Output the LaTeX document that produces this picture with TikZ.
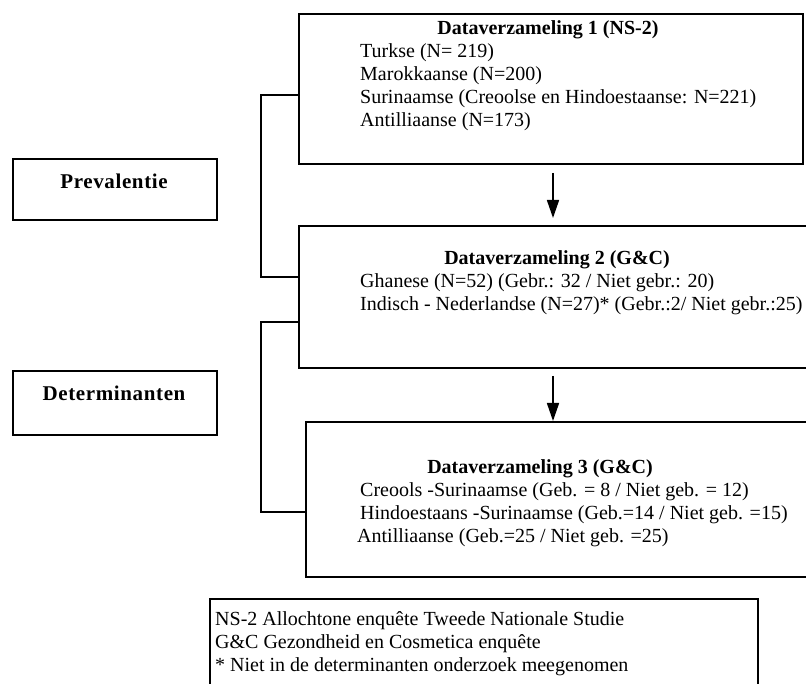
\documentclass[tikz,border=0pt]{standalone}
\usepackage{fontspec}
\setmainfont{Liberation Serif}
\usetikzlibrary{arrows.meta}
\begin{document}
\begin{tikzpicture}[x=1pt,y=-1pt,
  frame/.style={draw,line width=1.6pt,inner sep=0pt,anchor=north west},
  txt/.style={inner sep=0pt,anchor=base west,font=\fontsize{20}{23}\selectfont},
  ttl/.style={inner sep=0pt,anchor=base,font=\fontsize{20}{23}\selectfont\bfseries},
  side/.style={inner sep=0pt,anchor=base,font=\fontsize{21}{25}\selectfont\bfseries\addfontfeatures{LetterSpace=3}},
  conn/.style={line width=1.6pt},
  arr/.style={line width=1.6pt,-{Triangle[length=18pt,width=12pt]}}]
\useasboundingbox (0,0) rectangle (806,684);
\clip (0,0) rectangle (806,684);
% boxes
\node[frame,minimum width=504pt,minimum height=150pt] (box1) at (298,13) {};
\node[frame,minimum width=520pt,minimum height=142pt] (box2) at (298,225) {};
\node[frame,minimum width=520pt,minimum height=155pt] (box3) at (305,421) {};
\node[frame,minimum width=548pt,minimum height=100pt] (legend) at (209,598) {};
\node[frame,minimum width=204pt,minimum height=61pt] (prev) at (12,158) {};
\node[frame,minimum width=204pt,minimum height=64pt] (det) at (12,370) {};
% side labels
\node[side] (prevt) at (114,189) {Prevalentie};
\node[side] (dett) at (114,401) {Determinanten};
% box 1 text
\node[ttl] (t1) at (548,35) {Dataverzameling 1 (NS-2)};
\node[txt] (l11) at (360,58) {Turkse (N= 219)};
\node[txt] (l12) at (360,81) {Marokkaanse (N=200)};
\node[txt] (l13) at (360,104) {Surinaamse (Creoolse en Hindoestaanse: N=221)};
\node[txt] (l14) at (360,127) {Antilliaanse (N=173)};
% box 2 text
\node[ttl] (t2) at (557,265) {Dataverzameling 2 (G\&C)};
\node[txt] (l21) at (360,288) {Ghanese (N=52) (Gebr.: 32 / Niet gebr.: 20)};
\node[txt] (l22) at (360,311) {Indisch - Nederlandse (N=27)* (Gebr.:2/ Niet gebr.:25)};
% box 3 text
\node[ttl] (t3) at (540,473) {Dataverzameling 3 (G\&C)};
\node[txt] (l31) at (360,496) {Creools -Surinaamse (Geb. = 8 / Niet geb. = 12)};
\node[txt] (l32) at (360,519) {Hindoestaans -Surinaamse (Geb.=14 / Niet geb. =15)};
\node[txt] (l33) at (357,542) {Antilliaanse (Geb.=25 / Niet geb. =25)};
% legend text
\node[txt] (g1) at (215,625) {NS-2 Allochtone enquête Tweede Nationale Studie};
\node[txt] (g2) at (215,648) {G\&C Gezondheid en Cosmetica enquête};
\node[txt] (g3) at (215,671) {* Niet in de determinanten onderzoek meegenomen};
% arrows
\coordinate (a1s) at (553,173);
\coordinate (a1e) at (553,218);
\coordinate (a2s) at (553,376);
\coordinate (a2e) at (553,421);
\draw[arr] (a1s) -- (a1e);
\draw[arr] (a2s) -- (a2e);
% brackets
\draw[conn] (box1.west |- 0,95) -- (261,95) -- (261,277) -- (box2.west |- 0,277);
\draw[conn] (box2.west |- 0,322) -- (261,322) -- (261,512) -- (box3.west |- 0,512);
\end{tikzpicture}
\end{document}
